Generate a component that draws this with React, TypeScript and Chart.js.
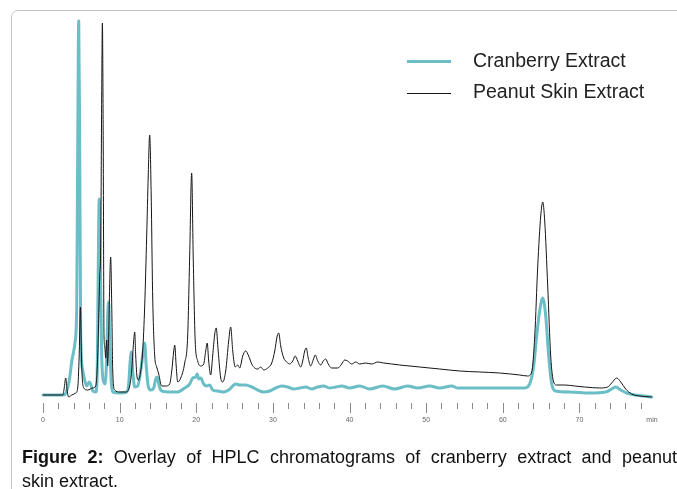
import React, { useEffect, useRef } from "react";
import { Chart, registerables } from "chart.js";

Chart.register(...registerables);

// Retention time (min) and detector signal for each extract
const cranberryTime = [0, 2.7, 3.09, 3.48, 3.74, 4.01, 4.2, 4.4, 4.53, 4.66, 4.79, 4.92, 5.18, 5.44, 5.7, 6.03, 6.22, 6.49, 6.88, 7.07, 7.2, 7.33, 7.46, 7.66, 7.92, 8.12, 8.31, 8.44, 8.57, 8.7, 8.9, 9.1, 10.01, 10.92, 11.18, 11.38, 11.54, 11.71, 11.97, 12.36, 12.75, 13.08, 13.27, 13.47, 13.73, 14.05, 14.45, 14.71, 14.9, 15.16, 15.49, 16.53, 17.58, 18.49, 19.14, 19.54, 19.93, 20.12, 20.32, 20.58, 20.97, 21.36, 21.75, 22.14, 22.8, 23.58, 24.23, 25.15, 25.67, 26.45, 27.24, 28.02, 28.8, 29.58, 30.37, 31.15, 31.93, 32.71, 33.5, 34.28, 35.06, 35.85, 36.63, 37.41, 38.19, 38.98, 40.02, 41.33, 42.63, 44.33, 45.89, 47.59, 48.89, 50.46, 51.76, 53.33, 54.12, 58.29, 62.86, 63.51, 64.03, 64.42, 64.81, 65.21, 65.6, 65.99, 66.38, 66.9, 68.73, 71.34, 73.43, 74.21, 74.73, 75.39, 76.17, 77.22, 78.52, 79.43];
const cranberrySignal = [1, 1, 5, 18, 34, 45, 55, 90, 250, 375, 250, 60, 26, 16, 10, 14, 12, 5, 4, 20, 120, 197, 150, 40, 14, 12, 40, 80, 94, 60, 15, 4, 3, 4, 12, 35, 44, 25, 9, 10, 25, 45, 53, 30, 10, 6, 8, 17, 19, 10, 5, 4, 4, 8, 12, 18, 19, 22, 17, 18, 12, 10, 11, 6, 5, 4, 6, 12, 11, 11, 9, 6, 4, 5, 8, 10, 9, 7, 8, 9, 7, 9, 10, 8, 9, 10, 8, 10, 7, 10, 7, 10, 8, 10, 8, 10, 8, 8, 8, 12, 30, 60, 85, 98, 80, 40, 12, 5, 4, 3, 4, 7, 9, 6, 3, 1, 0, -1];

const peanutTime = [0, 2.57, 2.77, 2.96, 3.16, 3.35, 3.75, 4.27, 4.53, 4.72, 4.88, 5.05, 5.31, 5.83, 6.49, 6.88, 7.14, 7.4, 7.53, 7.66, 7.75, 7.86, 7.96, 8.05, 8.18, 8.31, 8.44, 8.57, 8.7, 8.83, 8.97, 9.1, 9.36, 10.01, 10.79, 11.31, 11.57, 11.83, 11.97, 12.1, 12.29, 12.49, 12.75, 13.01, 13.27, 13.53, 13.73, 13.92, 14.12, 14.31, 14.58, 14.84, 15.1, 15.49, 16.01, 16.53, 16.8, 17.06, 17.19, 17.38, 17.58, 17.97, 18.49, 18.88, 19.14, 19.4, 19.6, 19.86, 20.19, 20.58, 20.97, 21.23, 21.43, 21.62, 21.88, 22.14, 22.41, 22.6, 22.86, 23.19, 23.45, 23.84, 24.23, 24.49, 24.76, 25.08, 25.41, 25.67, 26.06, 26.45, 26.84, 27.24, 27.63, 28.02, 28.41, 28.8, 29.32, 29.85, 30.24, 30.56, 30.76, 31.02, 31.41, 31.8, 32.19, 32.59, 32.91, 33.24, 33.63, 33.89, 34.15, 34.35, 34.61, 34.93, 35.26, 35.52, 35.85, 36.24, 36.57, 36.89, 37.22, 37.67, 38.46, 38.98, 39.37, 39.76, 40.29, 40.81, 41.33, 42.11, 42.9, 43.68, 44.46, 45.5, 46.55, 49.16, 51.77, 54.38, 56.99, 59.6, 62.21, 63.25, 63.77, 64.17, 64.56, 64.95, 65.21, 65.47, 65.86, 66.25, 66.64, 67.03, 68.08, 69.38, 70.69, 72.65, 73.69, 74.21, 74.87, 75.39, 76.04, 76.82, 77.87, 79.43];
const peanutSignal = [1, 1, 8, 18, 5, -1, 1, 3, 8, 40, 89, 30, 8, 6, 8, 10, 40, 119, 150, 300, 373, 250, 60, 50, 38, 56, 30, 60, 110, 139, 90, 25, 6, 4, 4, 10, 25, 55, 64, 40, 18, 16, 25, 45, 90, 160, 220, 261, 200, 100, 40, 29, 22, 10, 10, 12, 25, 45, 51, 30, 14, 18, 33, 60, 140, 223, 140, 55, 35, 30, 32, 45, 53, 35, 21, 40, 62, 68, 45, 18, 14, 25, 55, 69, 45, 29, 31, 28, 40, 45, 40, 32, 28, 27, 29, 26, 28, 33, 45, 60, 63, 50, 38, 34, 32, 35, 40, 35, 29, 35, 45, 48, 38, 30, 36, 41, 35, 31, 35, 37, 32, 28, 28, 32, 36, 35, 32, 34, 32, 33, 32, 34, 33, 32, 31, 29, 27, 25, 24, 23, 21, 20, 24, 60, 130, 180, 194, 175, 110, 40, 14, 11, 11, 10, 9, 8, 9, 13, 18, 14, 7, 2, 0, -1];

const seriesLabels = ["Cranberry Extract", "Peanut Skin Extract"];
const xTickValues = [0, 2, 4, 6, 8, 10, 12, 14, 16, 18, 20, 22, 24, 26, 28, 30, 32, 34, 36, 38, 40, 42, 44, 46, 48, 50, 52, 54, 56, 58, 60, 62, 64, 66, 68, 70, 72, 74, 76, 78];
const xLabeledTicks = [0, 10, 20, 30, 40, 50, 60, 70];
const xUnit = "min";

const TEAL = "#6bbec6";
const BLACK = "#151515";

const axisPlugin = {
  id: "hplcAxis",
  afterDraw(chart: any) {
    const ctx = chart.ctx;
    const xs = chart.scales.x;
    const top = 403;
    ctx.save();
    ctx.strokeStyle = "#8a8a8a";
    ctx.lineWidth = 1;
    xTickValues.forEach((v) => {
      const px = Math.round(xs.getPixelForValue(v)) + 0.5;
      const len = v % 10 === 0 ? 10 : 6;
      ctx.beginPath();
      ctx.moveTo(px, top);
      ctx.lineTo(px, top + len);
      ctx.stroke();
    });
    ctx.fillStyle = "#666";
    ctx.font = "7px 'Liberation Sans', Arial, sans-serif";
    ctx.textAlign = "center";
    ctx.textBaseline = "middle";
    xLabeledTicks.forEach((v) => {
      ctx.fillText(String(v), xs.getPixelForValue(v), 420);
    });
    ctx.fillText(xUnit, 652, 420.5);
    ctx.restore();
  },
};

const legendPlugin = {
  id: "hplcLegend",
  afterDraw(chart: any) {
    const ctx = chart.ctx;
    const rows = [
      { y: 61, base: 66.5 },
      { y: 93, base: 98 },
    ];
    ctx.save();
    chart.data.datasets.forEach((ds: any, i: number) => {
      const r = rows[i];
      ctx.strokeStyle = ds.borderColor;
      ctx.lineWidth = ds.borderWidth;
      ctx.beginPath();
      const yy = ds.borderWidth % 2 === 1 ? r.y + 0.5 : r.y;
      ctx.moveTo(407, yy);
      ctx.lineTo(451, yy);
      ctx.stroke();
      ctx.fillStyle = "#222";
      ctx.font = "19.5px 'Liberation Sans', Arial, sans-serif";
      ctx.textAlign = "left";
      ctx.textBaseline = "alphabetic";
      ctx.fillText(ds.label, 473, r.base);
    });
    ctx.restore();
  },
};

function ChartCanvas() {
  const ref = useRef<HTMLCanvasElement | null>(null);
  useEffect(() => {
    if (!ref.current) return;
    const cran = cranberryTime.map((t, i) => ({ x: t, y: cranberrySignal[i] }));
    const pea = peanutTime.map((t, i) => ({ x: t, y: peanutSignal[i] }));
    const chart = new Chart(ref.current, {
      type: "line",
      data: {
        datasets: [
          {
            label: seriesLabels[0],
            data: cran,
            borderColor: TEAL,
            borderWidth: 3,
            pointRadius: 0,
            cubicInterpolationMode: "monotone",
            borderJoinStyle: "round",
            borderCapStyle: "round",
            fill: false,
            clip: false,
            order: 1,
          },
          {
            label: seriesLabels[1],
            data: pea,
            borderColor: BLACK,
            borderWidth: 1,
            pointRadius: 0,
            cubicInterpolationMode: "monotone",
            fill: false,
            clip: false,
            order: 0,
          },
        ],
      },
      options: {
        responsive: false,
        animation: false,
        devicePixelRatio: 1,
        layout: { padding: { left: 43, right: 24, top: 20, bottom: 89 } },
        scales: {
          x: { type: "linear", min: 0, max: 79.6, display: false },
          y: { type: "linear", min: -4, max: 376, display: false },
        },
        plugins: {
          legend: { display: false },
          tooltip: { enabled: false },
        },
      },
      plugins: [axisPlugin, legendPlugin],
    } as any);
    return () => chart.destroy();
  }, []);
  return (
    <canvas
      ref={ref}
      width={677}
      height={489}
      style={{ position: "absolute", left: 0, top: 0, width: 677, height: 489 }}
    />
  );
}

export default function App() {
  const font = "'Liberation Sans', Arial, sans-serif";
  return (
    <div
      style={{
        position: "fixed",
        left: 0,
        top: 0,
        width: 677,
        height: 489,
        overflow: "hidden",
        background: "#fff",
      }}
    >
      <div
        style={{
          position: "absolute",
          left: 11,
          top: 10,
          width: 720,
          height: 560,
          border: "1px solid #c4c4c4",
          borderTopLeftRadius: 7,
          boxSizing: "border-box",
        }}
      />
      <ChartCanvas />
      <div
        style={{
          position: "absolute",
          left: 22,
          top: 445,
          width: 655,
          fontFamily: font,
          fontSize: 18,
          lineHeight: "24px",
          color: "#111",
          textAlign: "justify",
          textAlignLast: "justify" as any,
          whiteSpace: "nowrap",
        }}
      >
        <b>Figure 2:</b> Overlay of HPLC chromatograms of cranberry extract and peanut
      </div>
      <div
        style={{
          position: "absolute",
          left: 22,
          top: 469,
          fontFamily: font,
          fontSize: 18,
          lineHeight: "24px",
          color: "#111",
          whiteSpace: "nowrap",
        }}
      >
        skin extract.
      </div>
    </div>
  );
}
